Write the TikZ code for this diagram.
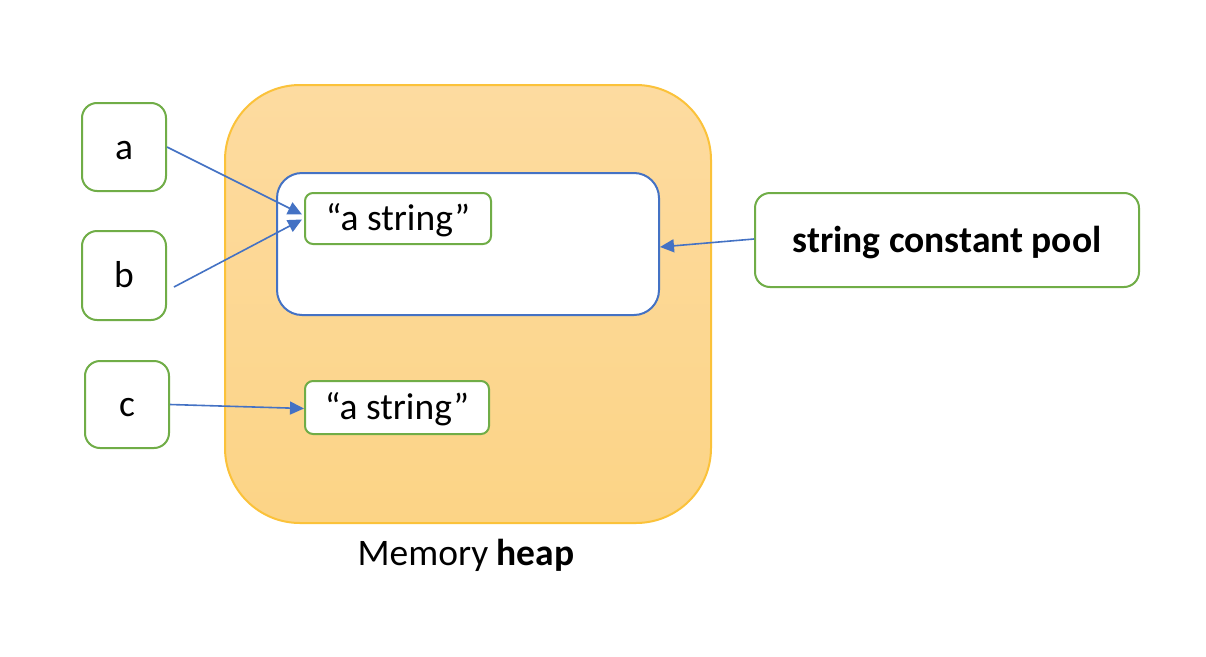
\documentclass[tikz,border=0pt]{standalone}
\usepackage{fontspec}
\setmainfont{Carlito}
\usetikzlibrary{arrows.meta}
\definecolor{heapfilltop}{HTML}{FDDBA0}
\definecolor{heapfillbot}{HTML}{FCD486}
\definecolor{heapborder}{HTML}{FBC23A}
\definecolor{boxgreen}{HTML}{70AD47}
\definecolor{poolblue}{HTML}{4472C4}
\tikzset{
  gbox/.style={draw=boxgreen, line width=2pt, fill=white, rounded corners=#1, inner sep=0pt},
  gbox/.default=15pt,
  ptr/.style={draw=poolblue, line width=1.6pt, -{Triangle[length=14pt,width=13pt]}},
  lbl/.style={font=\fontsize{37.5}{45}\selectfont, text height=34pt, text depth=9.5pt}
}
\begin{document}
\begin{tikzpicture}[x=1pt,y=-1pt]
\fill[white] (0,0) rectangle (1206,656);
\useasboundingbox (0,0) rectangle (1206,656);
% heap
\node[draw=heapborder, line width=2pt, top color=heapfilltop, bottom color=heapfillbot, rounded corners=75pt, minimum width=486pt, minimum height=438pt, inner sep=0pt] (heap) at (468,304) {};
\node[lbl] (heaplbl) at (466,553) {Memory \textbf{heap}};
% pool
\node[draw=poolblue, line width=2pt, fill=white, rounded corners=25pt, minimum width=382pt, minimum height=142pt, inner sep=0pt] (pool) at (468,244) {};
% strings
\node[gbox=8pt, lbl, minimum width=186pt, minimum height=51pt] (s1) at (398,218.5) {“a string”};
\node[gbox=8pt, lbl, minimum width=184pt, minimum height=53pt] (s2) at (397,407.5) {“a string”};
% variables
\node[gbox, lbl, minimum width=84pt, minimum height=88pt] (a) at (124,147) {a};
\node[gbox, lbl, minimum width=84pt, minimum height=89pt] (b) at (124,275.5) {b};
\node[gbox, lbl, minimum width=84pt, minimum height=87pt] (c) at (127,404.5) {c};
\node[gbox, lbl, minimum width=384pt, minimum height=94pt] (scp) at (947,240) {\textbf{string constant pool}};
% arrows
\coordinate (bstart) at ([xshift=7pt,yshift=-11.5pt]b.east);
\draw[ptr] (a.east) -- ([xshift=-2pt,yshift=4pt]s1.west);
\draw[ptr] (bstart) -- ([xshift=-2pt,yshift=-1pt]s1.west);
\draw[ptr] (c.east) -- ([yshift=-1pt]s2.west);
\draw[ptr] ([yshift=1pt]scp.west) -- ([yshift=-3pt]pool.east);
\end{tikzpicture}
\end{document}
